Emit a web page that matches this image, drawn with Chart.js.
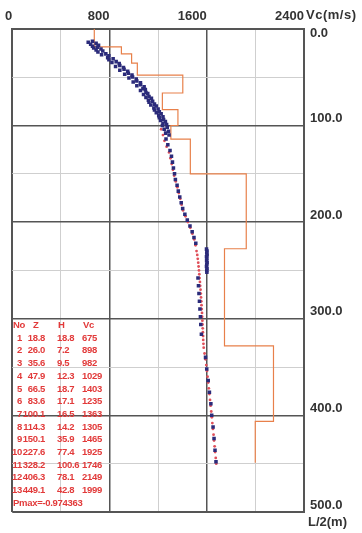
<!DOCTYPE html>
<html>
<head>
<meta charset="utf-8">
<script src="https://cdn.jsdelivr.net/npm/chart.js@4.4.0/dist/chart.umd.min.js"></script>
<style>
body{margin:0;background:#fff;}
#wrap{position:relative;width:362px;height:533px;}
.lbl{position:absolute;font:bold 13px "Liberation Sans",Arial,sans-serif;color:#333;white-space:nowrap;}
#tbl{position:absolute;left:0;top:0;font:bold 9.5px "Liberation Sans",Arial,sans-serif;color:#e23a3a;line-height:12px;letter-spacing:-0.3px;}
#tbl div{position:absolute;white-space:nowrap;}
</style>
</head>
<body>
<div id="wrap">
<canvas id="chart" width="362" height="533"></canvas>
<div class="lbl" style="left:306px;top:7px;letter-spacing:0.5px">Vc(m/s)</div>
<div class="lbl" style="left:308px;top:514px">L/2(m)</div>
<div id="tbl"></div>
</div>
<script>
// layer table: No, bottom depth Z, thickness H, velocity Vc
var layerNo = [1, 2, 3, 4, 5, 6, 7, 8, 9, 10, 11, 12, 13];
var layerZ = [18.8, 26.0, 35.6, 47.9, 66.5, 83.6, 100.1, 114.3, 150.1, 227.6, 328.2, 406.3, 449.1];
var layerH = [18.8, 7.2, 9.5, 12.3, 18.7, 17.1, 16.5, 14.2, 35.9, 77.4, 100.6, 78.1, 42.8];
var layerVc = [675, 898, 982, 1029, 1403, 1235, 1363, 1305, 1465, 1925, 1746, 2149, 1999];
var fitText = "Pmax=-0.974363";

// measured points (blue squares)
var blueDepth = [13,14,15,16,17,18,19,20,21,22,23,24,26,27,28,30,31,32,34,35,36,38,39,40,42,43,44,46,47,48,50,51,52,54,55,56,58,59,60,62,63,64,66,67,68,70,71,72,74,75,76,78,79,80,82,83,84,86,87,88,90,91,92,94,95,96,98,99,100,102,104,106,108,110,
  114,120,126,132,138,144,150,156,162,168,174,180,186,192,198,204,210,216,222,
  228,230,232,234,236,238,240,242,244,246,248,250,252,
  258,266,274,282,290,298,306,316,
  340,352,364,376,388,400,412,424,436,448];
var blueVc = [660,625,690,645,710,660,700,670,730,690,745,705,770,735,795,785,830,795,855,820,880,885,850,915,920,885,950,955,925,985,990,960,1020,1025,995,1055,1055,1025,1085,1075,1095,1055,1100,1115,1080,1125,1100,1145,1120,1155,1125,1170,1140,1185,1165,1200,1170,1210,1185,1225,1205,1240,1210,1245,1220,1260,1240,1270,1235,1275,1250,1285,1262,1290,
  1265,1280,1298,1310,1318,1326,1335,1342,1356,1366,1378,1390,1402,1420,1440,1462,1480,1495,1510,
  1598,1602,1600,1603,1598,1601,1599,1603,1600,1598,1602,1600,1601,
  1528,1532,1536,1540,1544,1548,1551,1556,
  1590,1600,1612,1622,1634,1641,1652,1660,1668,1676];

// computed points (red dots)
var redDepth = [104,110,116,122,128,134,140,146,152,158,164,170,176,182,188,194,200,206,212,218,224,230,234,238,242,246,250,254,258,262,266,270,274,278,282,286,290,294,298,302,306,310,314,318,322,326,330,336,342,348,354,360,366,372,378,384,390,396,402,408,414,420,426,432,438,444,450];
var redVc = [1225,1240,1252,1270,1290,1302,1312,1322,1332,1345,1358,1370,1382,1393,1405,1425,1445,1465,1482,1497,1508,1516,1522,1526,1530,1533,1536,1539,1541,1544,1546,1549,1551,1553,1555,1557,1559,1561,1562,1564,1565,1567,1568,1570,1571,1573,1575,1582,1590,1596,1602,1607,1612,1617,1622,1627,1632,1637,1642,1646,1651,1656,1660,1665,1669,1674,1678];

// axis tick labels
var xLabelValues = [0, 800, 1600, 2400];
var yLabelValues = [0, 100, 200, 300, 400, 500];
var yLabelText = ['0.0', '100.0', '200.0', '300.0', '400.0', '500.0'];

function pts(xs, ys){
    var out = [];
    for (var i = 0; i < xs.length; i++) out.push({x: xs[i], y: ys[i]});
    return out;
}

var stepPts = [{x: layerVc[0], y: 0}];
for (var i = 0; i < layerZ.length; i++) {
    stepPts.push({x: layerVc[i], y: layerZ[i]});
    if (i + 1 < layerZ.length) stepPts.push({x: layerVc[i + 1], y: layerZ[i]});
}

var xFont = {family: '"Liberation Sans", Arial, sans-serif', size: 13, weight: 'bold', lineHeight: 1.15};
var yFont = {family: '"Liberation Sans", Arial, sans-serif', size: 13, weight: 'bold', lineHeight: 1.75};

new Chart(document.getElementById("chart"), {
    type: 'scatter',
    data: {
        datasets: [{
            data: pts(blueVc, blueDepth),
            pointStyle: 'rect',
            pointRadius: 2.5,
            backgroundColor: '#2b2b7a',
            borderWidth: 0
        }, {
            data: pts(redVc, redDepth),
            pointRadius: 1.4,
            backgroundColor: '#e0505a',
            borderWidth: 0
        }, {
            data: stepPts,
            showLine: true,
            pointRadius: 0,
            borderColor: '#e8804a',
            borderWidth: 1.2,
            fill: false
        }]
    },
    options: {
        responsive: false,
        animation: false,
        devicePixelRatio: 1,
        layout: {padding: {left: 12, top: 0, right: 0, bottom: 21}},
        plugins: {legend: {display: false}, tooltip: {enabled: false}},
        scales: {
            x: {
                type: 'linear', position: 'top', min: 0, max: 2400,
                afterFit: function(s){ s.height = 23; },
                border: {display: true, color: '#555', width: 2},
                grid: {
                    drawTicks: false,
                    color: function(c){ return c.tick.value % 800 === 0 ? '#555' : '#cfcfcf'; },
                    lineWidth: function(c){ return c.tick.value % 800 === 0 ? (c.tick.value % 2400 === 0 ? 2 : 1.5) : 1; }
                },
                ticks: {
                    stepSize: 400, align: 'end', padding: 5, color: '#333', font: xFont, maxRotation: 0, autoSkip: false,
                    callback: function(v){ return xLabelValues.indexOf(v) >= 0 ? String(v) : ''; }
                }
            },
            y: {
                type: 'linear', position: 'right', reverse: true, min: 0, max: 500,
                afterFit: function(s){ s.width = 58; },
                border: {display: true, color: '#555', width: 2},
                grid: {
                    drawTicks: false,
                    color: function(c){ return c.tick.value % 100 === 0 ? '#555' : '#cfcfcf'; },
                    lineWidth: function(c){ return c.tick.value % 100 === 0 ? (c.tick.value % 500 === 0 ? 2 : 1.5) : 1; }
                },
                ticks: {
                    stepSize: 50, padding: 6, labelOffset: -7, color: '#333', font: yFont, autoSkip: false,
                    callback: function(v){
                        var k = yLabelValues.indexOf(v);
                        if (k < 0) return '';
                        if (k === 0) return ['', yLabelText[k]];
                        return yLabelText[k];
                    }
                }
            }
        }
    }
});

// layer table overlay
var tbl = document.getElementById("tbl");
function cell(txt, left, top, right){
    var d = document.createElement("div");
    d.textContent = txt;
    d.style.top = top + "px";
    if (right) { d.style.left = (left - 40) + "px"; d.style.width = "40px"; d.style.textAlign = "right"; }
    else d.style.left = left + "px";
    tbl.appendChild(d);
}
var top0 = 319, pitch = 12.7;
cell("No", 13, top0); cell("Z", 33, top0); cell("H", 58, top0); cell("Vc", 83, top0);
for (var r = 0; r < layerNo.length; r++) {
    var t = top0 + (r + 1) * pitch;
    cell(String(layerNo[r]), 22, t, true);
    cell(layerZ[r].toFixed(1), 45, t, true);
    cell(layerH[r].toFixed(1), 57, t);
    cell(String(layerVc[r]), 82, t);
}
cell(fitText, 13, top0 + 14 * pitch);
</script>
</body>
</html>
